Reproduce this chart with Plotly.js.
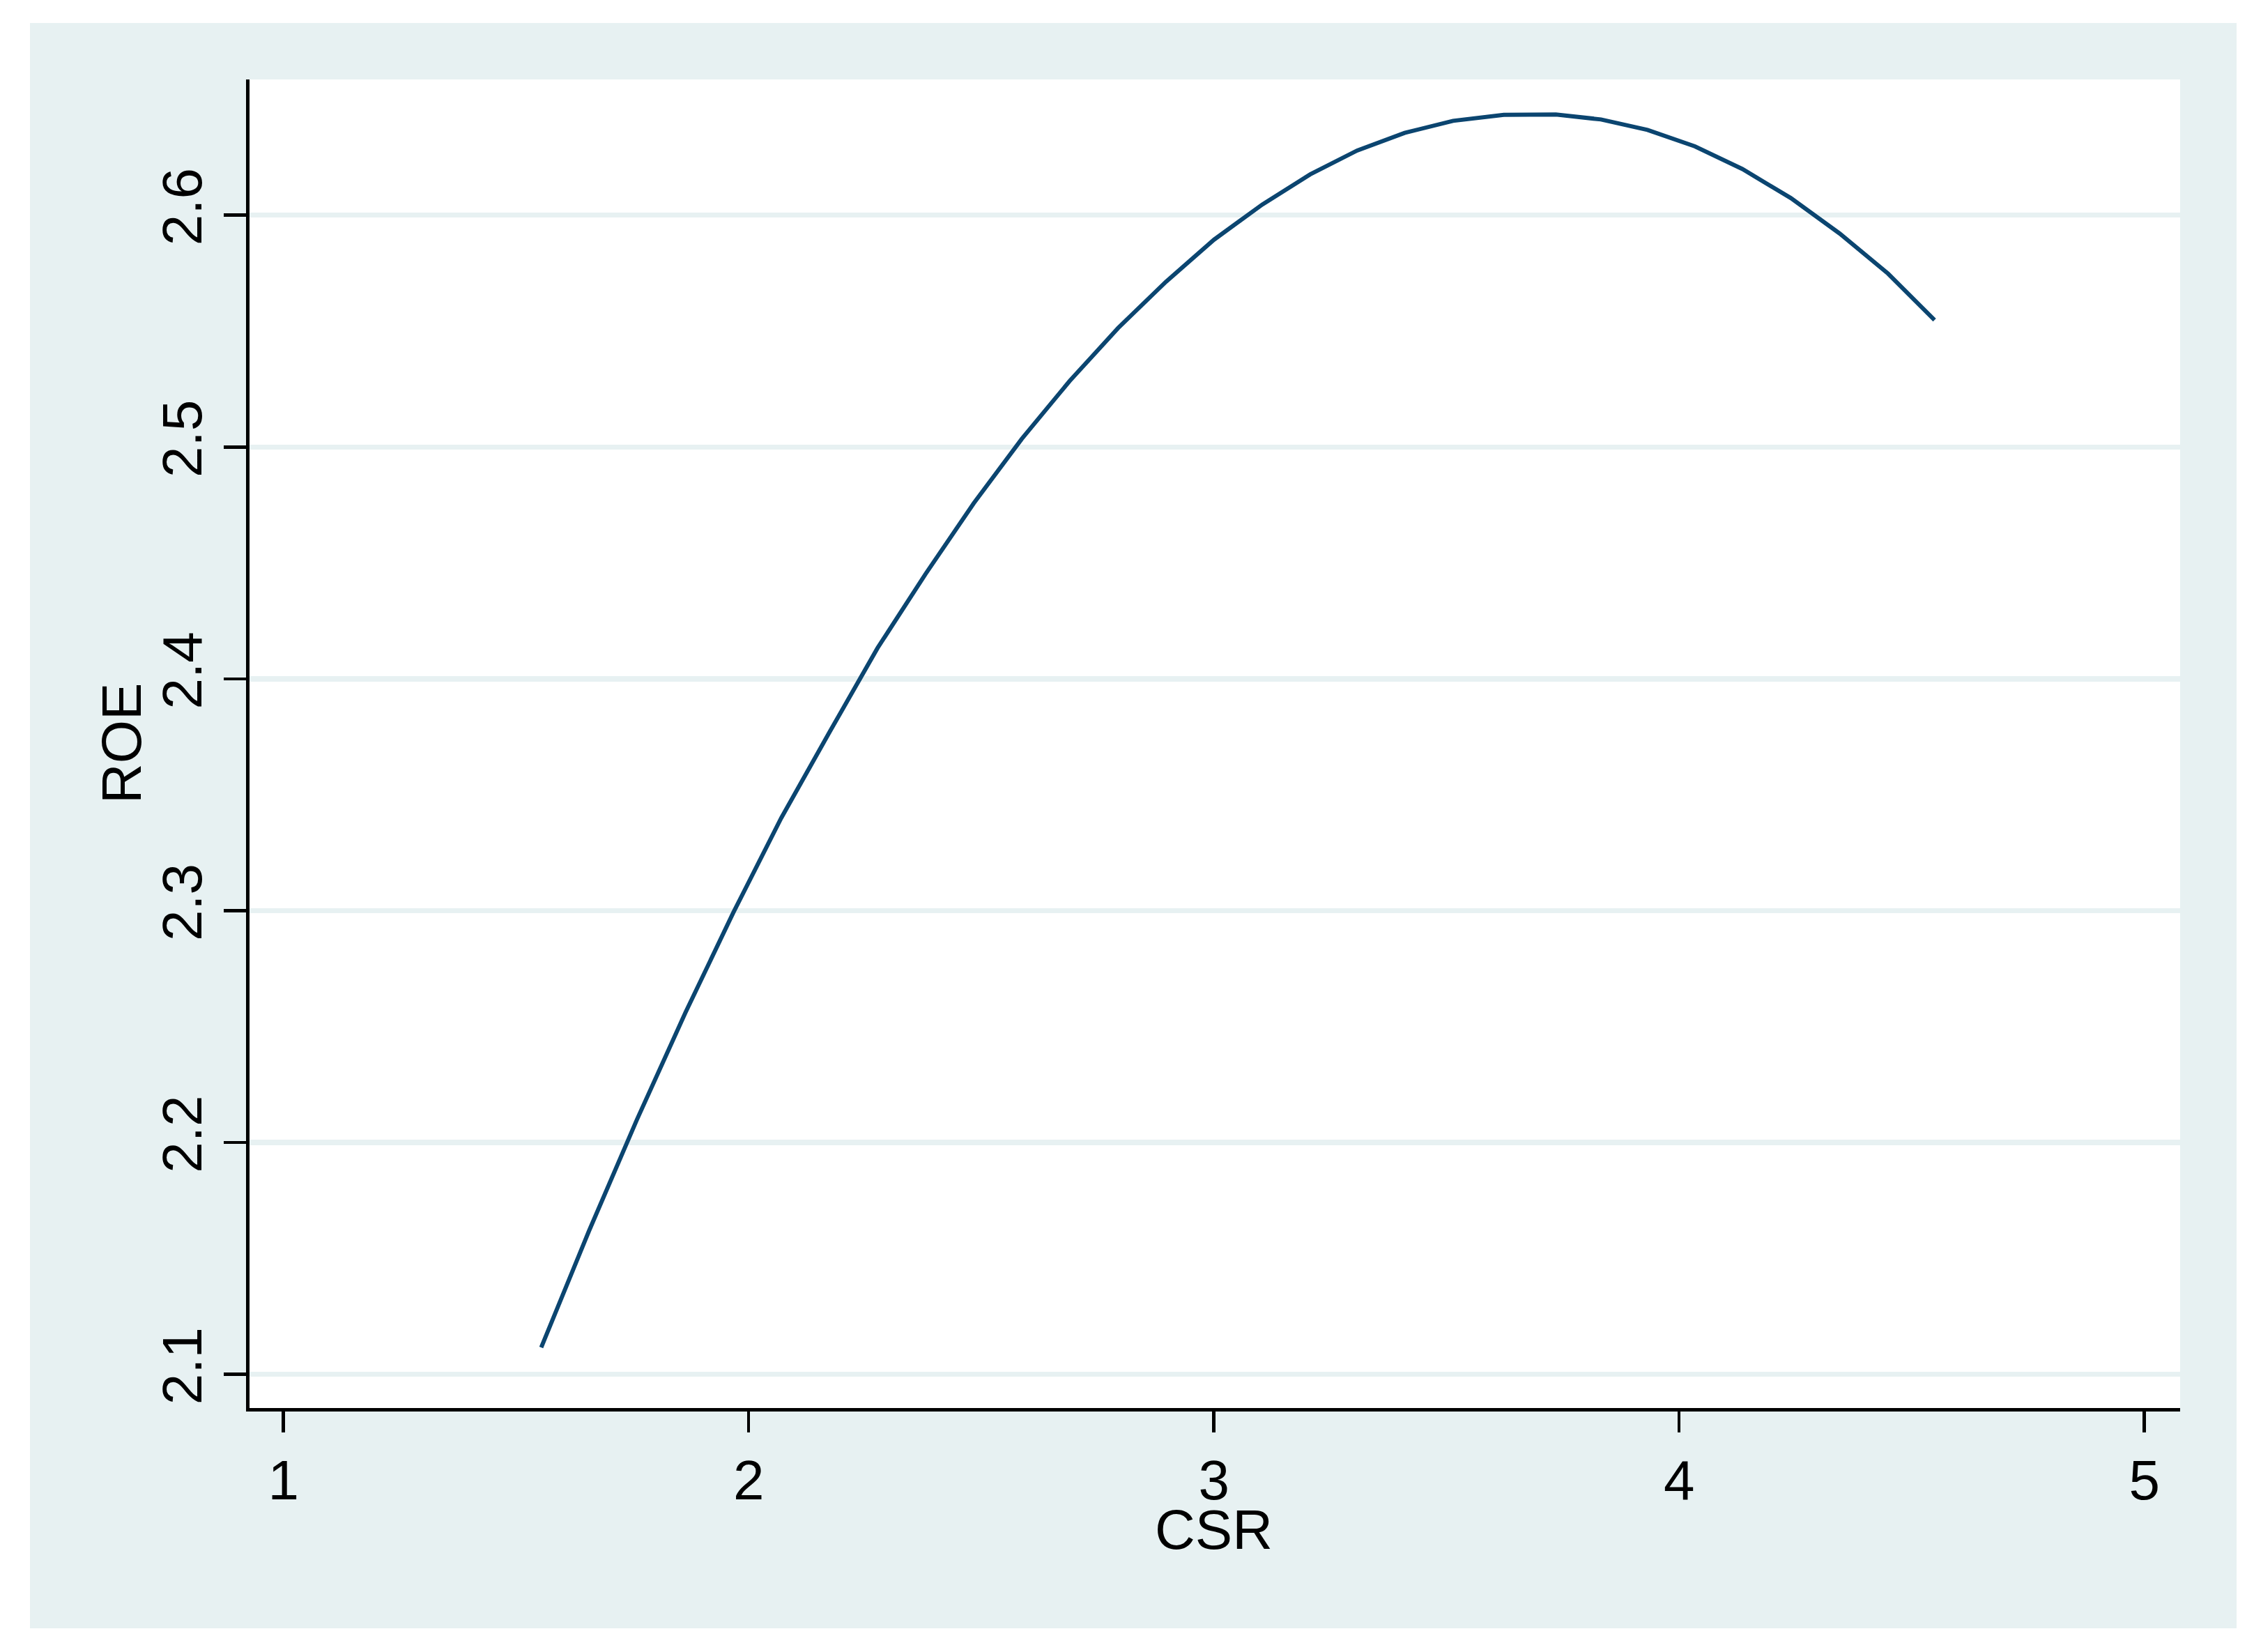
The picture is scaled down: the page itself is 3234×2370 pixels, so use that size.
<!DOCTYPE html>
<html>
<head>
<meta charset="utf-8">
<script src="https://cdn.plot.ly/plotly-3.0.1.min.js"></script>
<style>
  html, body { margin: 0; padding: 0; background: #ffffff; width: 3234px; height: 2370px; overflow: hidden; }
  #chart { position: absolute; left: 43px; top: 33px; width: 3166px; height: 2303px; }
</style>
</head>
<body>
<div id="chart"></div>
<script>
// CSR values (x) and fitted ROE values (y)
const csr = [1.554, 1.657, 1.760, 1.864, 1.967, 2.070, 2.174, 2.277, 2.380, 2.484,
             2.587, 2.690, 2.794, 2.897, 3.000, 3.104, 3.207, 3.308, 3.410, 3.514,
             3.623, 3.735, 3.832, 3.932, 4.034, 4.136, 4.240, 4.345, 4.449, 4.549];
const roe = [2.1116, 2.1620, 2.2100, 2.2560, 2.2992, 2.3400, 2.3771, 2.4133, 2.4452, 2.4758,
             2.5035, 2.5285, 2.5513, 2.5713, 2.5894, 2.6046, 2.6176, 2.6279, 2.6355, 2.6407,
             2.6433, 2.6434, 2.6413, 2.6368, 2.6297, 2.6199, 2.6074, 2.5921, 2.5748, 2.5548];
const xTicks = [1, 2, 3, 4, 5];
const yTicks = [2.1, 2.2, 2.3, 2.4, 2.5, 2.6];
const xTitle = "CSR";
const yTitle = "ROE";

const bg = "#e7f1f2";
const font = { family: "Liberation Sans, Arial, sans-serif", size: 80, color: "#000000" };

const trace = {
  x: csr, y: roe, type: "scatter", mode: "lines",
  line: { color: "#0b4570", width: 6 },
  hoverinfo: "skip", showlegend: false
};

const layout = {
  width: 3166, height: 2303,
  paper_bgcolor: bg, plot_bgcolor: "#ffffff",
  margin: { l: 315, r: 81, t: 81, b: 316, pad: 0 },
  font: font,
  showlegend: false,
  xaxis: {
    range: [0.927, 5.0769],
    tickvals: xTicks, ticktext: xTicks.map(String),
    ticks: "outside", ticklen: 30, tickwidth: 4.5, tickcolor: "#000",
    showline: true, linecolor: "#000", linewidth: 5, mirror: false,
    showgrid: false, zeroline: false,
    tickfont: font,
    automargin: false
  },
  yaxis: {
    range: [2.08548, 2.65854],
    tickvals: yTicks, ticktext: yTicks.map(v => v.toFixed(1)),
    tickangle: -90,
    ticks: "outside", ticklen: 32, tickwidth: 4.5, tickcolor: "#000",
    showline: true, linecolor: "#000", linewidth: 5, mirror: false,
    showgrid: true, gridcolor: bg, gridwidth: 7.5, zeroline: false,
    tickfont: font,
    automargin: false
  },
  annotations: [
    { text: xTitle, xref: "paper", yref: "paper", x: 0.4996, y: -0.0918,
      xanchor: "center", yanchor: "middle", showarrow: false, font: font },
    { text: yTitle, xref: "paper", yref: "paper", x: -0.0664, y: 0.5,
      xanchor: "center", yanchor: "middle", textangle: -90, showarrow: false, font: font }
  ]
};

Plotly.newPlot("chart", [trace], layout, { staticPlot: true, displayModeBar: false });
</script>
</body>
</html>
